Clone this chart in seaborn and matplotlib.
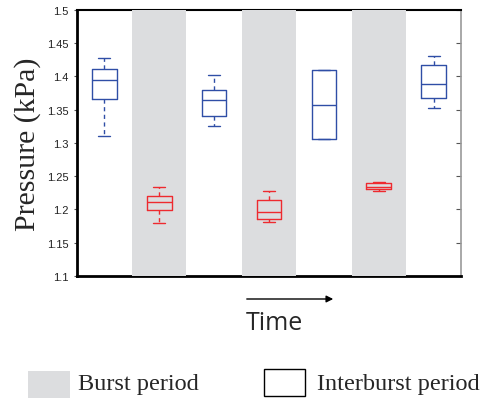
import numpy as np
import pandas as pd
import matplotlib
matplotlib.use("Agg")
import matplotlib.pyplot as plt
import seaborn as sns
from matplotlib.patches import Rectangle, FancyArrowPatch

# ---- data (five-number summaries) ----
periods = ["P1", "P2", "P3", "P4", "P5", "P6", "P7"]
kinds = ["Interburst", "Burst", "Interburst", "Burst", "Interburst", "Burst", "Interburst"]
whisk_lo = [1.310, 1.179, 1.325, 1.181, 1.306, 1.228, 1.353]
q1 = [1.366, 1.199, 1.341, 1.185, 1.306, 1.230, 1.367]
median = [1.395, 1.211, 1.365, 1.196, 1.357, 1.234, 1.388]
q3 = [1.411, 1.220, 1.380, 1.214, 1.409, 1.240, 1.417]
whisk_hi = [1.427, 1.234, 1.402, 1.227, 1.409, 1.242, 1.431]
yticks = [1.1, 1.15, 1.2, 1.25, 1.3, 1.35, 1.4, 1.45, 1.5]
ytick_labels = ["1.1", "1.15", "1.2", "1.25", "1.3", "1.35", "1.4", "1.45", "1.5"]

BLUE = "#2f4ea6"
RED = "#ee2a2f"
GREY = "#dcdddf"

rows = []
for p, k, a, b, c, d, e in zip(periods, kinds, whisk_lo, q1, median, q3, whisk_hi):
    for v in (a, b, c, d, e):
        rows.append({"period": p, "kind": k, "pressure": v})
df = pd.DataFrame(rows)

sns.set_style("white")
plt.rcParams["font.family"] = ["Liberation Sans", "DejaVu Sans"]

fig = plt.figure(figsize=(4.86, 4.02), dpi=100)
ax = fig.add_axes([0.158, 0.311, 0.791, 0.662])

for i, k in enumerate(kinds):
    if k == "Burst":
        ax.axvspan(i - 0.49, i + 0.49, color=GREY, lw=0, zorder=3)

sns.boxplot(data=df, x="period", y="pressure", hue="kind", order=periods,
            palette={"Interburst": BLUE, "Burst": RED}, fill=False, dodge=False,
            whis=np.inf, width=0.45, linewidth=1.0, legend=False, ax=ax,
            whiskerprops={"linestyle": (0, (3, 2.5))})
for art in ax.lines + ax.patches:
    art.set_zorder(5)

ax.set_xlim(-0.5, len(periods) - 0.5)
ax.set_ylim(1.1, 1.5)
ax.set_yticks(yticks)
ax.set_yticklabels(ytick_labels, fontsize=8, color="#222222")
ax.set_xticks([])
ax.set_xlabel("")
ax.set_ylabel("Pressure (kPa)", family=["Liberation Serif"], fontsize=21.5, labelpad=4)
ax.tick_params(axis="y", left=True, right=True, direction="out", length=2,
               width=0.8, color="#555555", pad=4)
ax.tick_params(axis="y", which="major", right=True)
for t in ax.yaxis.get_major_ticks():
    t.tick2line.set_marker(matplotlib.markers.TICKLEFT)
    t.tick2line.set_markersize(3.5)

for side in ("left", "bottom"):
    ax.spines[side].set_color("black")
    ax.spines[side].set_linewidth(2.0)
ax.spines["top"].set_color("black")
ax.spines["top"].set_linewidth(1.5)
ax.spines["right"].set_color("#999999")
ax.spines["right"].set_linewidth(1.2)

# Time arrow and label
arrow = FancyArrowPatch((244 / 486, 1 - 300 / 402), (336 / 486, 1 - 300 / 402),
                        transform=fig.transFigure, arrowstyle="-|>", mutation_scale=10,
                        lw=1.0, color="black")
fig.add_artist(arrow)
fig.text(274 / 486, 1 - 324 / 402, "Time", ha="center", va="center", fontsize=18,
         family=["Open Sans", "DejaVu Sans"])

# legend
fig.add_artist(Rectangle((28 / 486, 1 - 399 / 402), 42 / 486, 27 / 402,
                         transform=fig.transFigure, facecolor=GREY, edgecolor="none"))
fig.text(78 / 486, 1 - 385 / 402, "Burst period", ha="left", va="center", fontsize=17.5,
         family=["Liberation Serif"])
fig.add_artist(Rectangle((264 / 486, 1 - 397 / 402), 41 / 486, 27 / 402,
                         transform=fig.transFigure, facecolor="white", edgecolor="black",
                         lw=1.0))
fig.text(317 / 486, 1 - 385 / 402, "Interburst period", ha="left", va="center",
         fontsize=17.5, family=["Liberation Serif"])

fig.savefig("out.png", dpi=100)
